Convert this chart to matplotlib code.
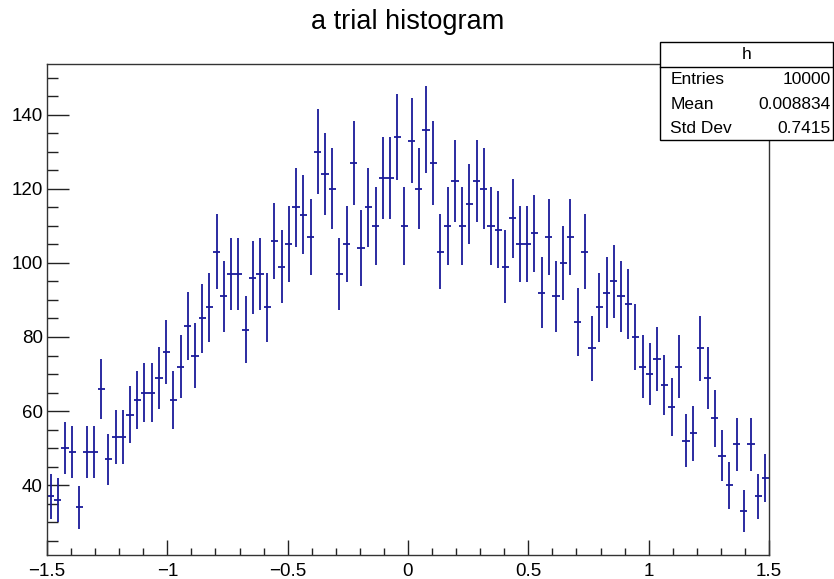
import numpy as np
import matplotlib
matplotlib.use('Agg')
import matplotlib.pyplot as plt
from matplotlib.patches import Rectangle
from matplotlib.ticker import MultipleLocator

plt.rcParams['font.family'] = ['Liberation Sans', 'DejaVu Sans']

# histogram contents (100 bins from -1.5 to 1.5)
counts = [37, 36, 50, 49, 34, 49, 49, 66, 47, 53,
          53, 59, 63, 65, 65, 69, 76, 63, 72, 83,
          75, 85, 88, 103, 91, 97, 97, 82, 96, 97,
          88, 106, 99, 105, 115, 113, 107, 130, 124, 120,
          97, 105, 127, 104, 115, 110, 123, 123, 134, 110,
          133, 120, 136, 127, 103, 110, 122, 110, 116, 122,
          120, 110, 109, 99, 112, 105, 105, 108, 92, 107,
          91, 100, 107, 84, 103, 77, 88, 92, 95, 91,
          89, 80, 72, 70, 74, 67, 61, 72, 52, 54,
          77, 69, 58, 48, 40, 51, 33, 51, 37, 42]
xmin, xmax = -1.5, 1.5
stat_name = 'h'
stat_rows = [('Entries', '10000'), ('Mean', '0.008834'), ('Std Dev', '0.7415')]
title = 'a trial histogram'

counts = np.array(counts, dtype=float)
nbins = len(counts)
edges = np.linspace(xmin, xmax, nbins + 1)
centers = 0.5 * (edges[:-1] + edges[1:])
halfw = 0.5 * (edges[1] - edges[0])
errs = np.sqrt(counts)

fig = plt.figure(figsize=(8.34, 5.79), dpi=100)
ax = fig.add_axes([47 / 834, 1 - 554.7 / 579, (769 - 47) / 834, (554.7 - 64) / 579])

ax.errorbar(centers, counts, xerr=halfw, yerr=errs, fmt='none',
            ecolor='#1a1a9a', elinewidth=1.3, capsize=0)

# ROOT style range: data +- errors with 5% margin
lo = (counts - errs).min()
hi = (counts + errs).max()
m = 0.05 * (hi - lo)
ax.set_ylim(lo - m, hi + m)
ax.set_xlim(xmin, xmax)

ax.xaxis.set_major_locator(MultipleLocator(0.5))
ax.xaxis.set_minor_locator(MultipleLocator(0.1))
ax.yaxis.set_major_locator(MultipleLocator(20))
ax.yaxis.set_minor_locator(MultipleLocator(5))
ax.set_xticks([-1.5, -1, -0.5, 0, 0.5, 1, 1.5])
ax.set_xticklabels(['\u22121.5', '\u22121', '\u22120.5', '0', '0.5', '1', '1.5'])

ax.tick_params(axis='both', which='both', direction='in', top=False, right=False,
               colors='#222222', labelcolor='black', labelsize=13.5, width=1.0)
ax.tick_params(axis='x', which='major', length=10.8, pad=6)
ax.tick_params(axis='x', which='minor', length=5.4)
ax.tick_params(axis='y', which='major', length=15.5, pad=3)
ax.tick_params(axis='y', which='minor', length=7.8)
for s in ax.spines.values():
    s.set_color('#333333')
    s.set_linewidth(1.0)

fig.text(407.7 / 834, 1 - 22 / 579, title, ha='center', va='center', fontsize=19.5)

# stat box
W, H = 834, 579
bx0, bx1, by0, by1, byh = 660, 833, 42.3, 140, 66.7
fig.patches.append(Rectangle((bx0 / W, 1 - by1 / H), (bx1 - bx0) / W, (by1 - by0) / H,
                             transform=fig.transFigure, facecolor='white',
                             edgecolor='black', linewidth=1.0, zorder=5))
fig.lines.append(plt.Line2D([bx0 / W, bx1 / W], [1 - byh / H, 1 - byh / H],
                            transform=fig.transFigure, color='black', linewidth=1.0, zorder=6))
fig.text((bx0 + bx1) / 2 / W, 1 - 54.5 / H, stat_name, ha='center', va='center',
         fontsize=12.5, zorder=7)
row_y = [80, 104.5, 128.5]
for (lab, val), yy in zip(stat_rows, row_y):
    fig.text(670.5 / W, 1 - yy / H, lab, ha='left', va='center', fontsize=12.5, zorder=7)
    fig.text(830.5 / W, 1 - yy / H, val, ha='right', va='center', fontsize=12.5, zorder=7)

fig.savefig('out.png', dpi=100)
